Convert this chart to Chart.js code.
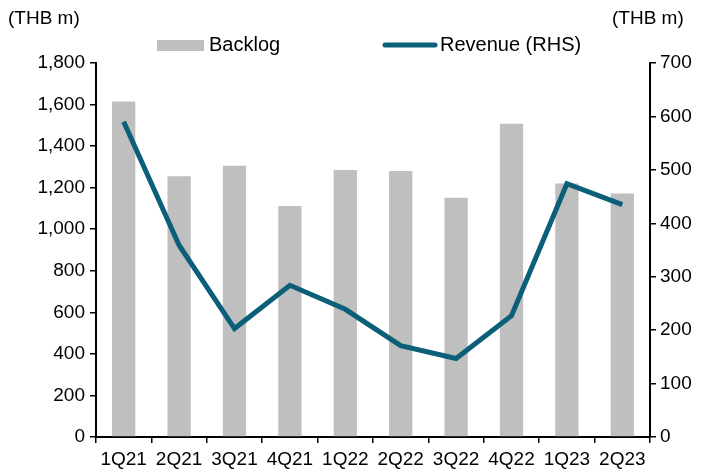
<!DOCTYPE html>
<html>
<head>
<meta charset="utf-8">
<script src="https://cdn.jsdelivr.net/npm/chart.js@4"></script>
<style>
  html, body { margin: 0; padding: 0; background: #fff; }
  #wrap { width: 726px; height: 471px; position: relative; }
</style>
</head>
<body>
<div id="wrap"><canvas id="chart"></canvas></div>
<script>
const quarters = ['1Q21', '2Q21', '3Q21', '4Q21', '1Q22', '2Q22', '3Q22', '4Q22', '1Q23', '2Q23'];
const backlog = [1615, 1255, 1305, 1112, 1285, 1280, 1152, 1508, 1220, 1172];
const revenue = [590, 359, 203, 284, 239, 171, 147, 227, 474, 435];
const leftTicks = [0, 200, 400, 600, 800, 1000, 1200, 1400, 1600, 1800];
const rightTicks = [0, 100, 200, 300, 400, 500, 600, 700];

const FONT = 'Liberation Sans, Arial, sans-serif';
const barColor = '#BFBFBF';
const lineColor = '#0B5F78';

// legend + unit labels drawn on top
const extras = {
  id: 'extras',
  afterDraw(chart) {
    const ctx = chart.ctx;
    ctx.save();
    ctx.font = '19px ' + FONT;
    ctx.fillStyle = '#000';
    ctx.textBaseline = 'middle';
    ctx.textAlign = 'left';
    ctx.fillText('(THB m)', 8, 19);
    ctx.fillText('(THB m)', 612, 19);
    // backlog
    ctx.fillStyle = barColor;
    ctx.fillRect(157, 40, 47, 11);
    ctx.fillStyle = '#000';
    ctx.font = '20px ' + FONT;
    ctx.fillText('Backlog', 209, 45);
    // revenue
    ctx.strokeStyle = lineColor;
    ctx.lineWidth = 5;
    ctx.lineCap = 'round';
    ctx.beginPath();
    ctx.moveTo(385, 45);
    ctx.lineTo(435, 45);
    ctx.stroke();
    ctx.fillText('Revenue (RHS)', 440, 45);
    ctx.restore();
  }
};

new Chart(document.getElementById('chart'), {
  type: 'bar',
  data: {
    labels: quarters,
    datasets: [
      {
        type: 'line',
        label: 'Revenue (RHS)',
        data: revenue,
        yAxisID: 'y2',
        borderColor: lineColor,
        borderWidth: 5,
        pointRadius: 0,
        tension: 0,
        order: 0
      },
      {
        label: 'Backlog',
        data: backlog,
        yAxisID: 'y',
        backgroundColor: barColor,
        barPercentage: 0.42,
        categoryPercentage: 1,
        order: 1
      }
    ]
  },
  options: {
    responsive: true,
    maintainAspectRatio: false,
    animation: false,
    layout: { padding: { top: 63, left: 0, right: 0, bottom: 0 } },
    plugins: {
      legend: { display: false },
      tooltip: { enabled: false }
    },
    scales: {
      x: {
        grid: { drawOnChartArea: false, drawTicks: true, tickLength: 6, color: '#000', lineWidth: 1.5 },
        border: { display: true, color: '#000', width: 2 },
        ticks: { color: '#000', font: { family: FONT, size: 19 }, padding: 5, maxRotation: 0, autoSkip: false },
        afterFit(s) { s.height = 34; }
      },
      y: {
        position: 'left',
        min: 0, max: 1800,
        afterBuildTicks(s) { s.ticks = leftTicks.map(v => ({ value: v })); },
        grid: { drawOnChartArea: false, drawTicks: true, tickLength: 6, color: '#000', lineWidth: 1.5 },
        border: { display: true, color: '#000', width: 2 },
        ticks: {
          color: '#000', font: { family: FONT, size: 19 }, padding: 5,
          callback: v => v.toLocaleString('en-US')
        },
        afterFit(s) { s.width = 96; }
      },
      y2: {
        position: 'right',
        min: 0, max: 700,
        afterBuildTicks(s) { s.ticks = rightTicks.map(v => ({ value: v })); },
        grid: { drawOnChartArea: false, drawTicks: true, tickLength: 6, color: '#000', lineWidth: 1.5 },
        border: { display: true, color: '#000', width: 2 },
        ticks: { color: '#000', font: { family: FONT, size: 19 }, padding: 4 },
        afterFit(s) { s.width = 76; }
      }
    }
  },
  plugins: [extras]
});
</script>
</body>
</html>
